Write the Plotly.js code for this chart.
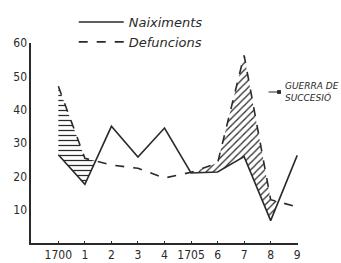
<!DOCTYPE html>
<html><head><meta charset="utf-8">
<script src="https://cdn.plot.ly/plotly-3.0.1.min.js"></script>
<style>html,body{margin:0;padding:0;background:#fff}#c{width:341px;height:263px}</style>
</head><body><div id="c"></div>
<script>
const years = [1700,1701,1702,1703,1704,1705,1706,1707,1708,1709];
const tickLabels = ["1700","1","2","3","4","1705","6","7","8","9"];
const naixements = [26.5,17.6,35,25.8,34.5,21,21.3,25.9,6.7,26.3];
const defuncions = [47,25.4,23.4,22.4,19.5,21.2,24,56.3,13,10.8];
const yTicks = [10,20,30,40,50,60];
const legendNames = ["Naiximents","Defuncions"];
const note = "GUERRA DE<br>SUCCESIÓ";

// regions where deaths exceed births (hatched)
function excessRegions(){
  const segs=[]; let cur=null;
  for(let i=0;i<years.length;i++){
    const d=defuncions[i]-naixements[i];
    if(i>0){
      const dp=defuncions[i-1]-naixements[i-1];
      if((dp>0)!==(d>0)){
        const t=dp/(dp-d);
        const x=years[i-1]+t*(years[i]-years[i-1]);
        const y=naixements[i-1]+t*(naixements[i]-naixements[i-1]);
        if(cur){cur.x.push(x);cur.lo.push(y);cur.hi.push(y);segs.push(cur);cur=null;}
        else cur={x:[x],lo:[y],hi:[y]};
      }
    }
    if(d>0){ if(!cur) cur={x:[],lo:[],hi:[]}; cur.x.push(years[i]); cur.lo.push(naixements[i]); cur.hi.push(defuncions[i]); }
  }
  if(cur) segs.push(cur);
  return segs;
}
const ink = "#2a2a2a";
const patterns = ["-","/"];
const traces = [];
excessRegions().forEach((s,k)=>{
  traces.push({x:s.x,y:s.lo,mode:"lines",line:{width:0,color:ink},showlegend:false,hoverinfo:"skip"});
  traces.push({x:s.x,y:s.hi,mode:"lines",line:{width:0,color:ink},fill:"tonexty",fillcolor:"rgba(0,0,0,0)",
    fillpattern:{shape:patterns[k%2],fgcolor:ink,bgcolor:"white",size:5,solidity:0.25},showlegend:false,hoverinfo:"skip"});
});
traces.push({x:years,y:naixements,name:legendNames[0],mode:"lines",line:{color:ink,width:1.6}});
traces.push({x:years,y:defuncions,name:legendNames[1],mode:"lines",line:{color:ink,width:1.6,dash:"dash"}});

const layout = {
  width:341,height:263,
  margin:{l:31,r:43,t:43,b:20,autoexpand:false},
  paper_bgcolor:"#fff",plot_bgcolor:"#fff",
  font:{family:"DejaVu Sans",color:ink,size:11},
  showlegend:true,
  legend:{x:0.16,y:1.18,xanchor:"left",yanchor:"top",bgcolor:"rgba(0,0,0,0)",traceorder:"normal",
    font:{family:"DejaVu Sans",size:13,style:"italic",color:ink},itemwidth:45,tracegroupgap:0},
  xaxis:{range:[1698.97,1709.03],tickvals:years,ticktext:tickLabels,showgrid:false,zeroline:false,
    showline:true,linecolor:ink,linewidth:1.6,ticks:"inside",ticklen:2,tickcolor:ink,
    tickfont:{size:12,family:"DejaVu Sans Condensed"},fixedrange:true},
  yaxis:{range:[0,60],tickvals:yTicks,showgrid:false,zeroline:false,showline:true,linecolor:ink,linewidth:1.6,
    ticks:"",tickfont:{size:12,family:"DejaVu Sans Condensed"},fixedrange:true},
  annotations:[
    {xref:"paper",yref:"paper",x:0.944,y:0.755,xanchor:"left",yanchor:"middle",text:note,align:"left",
     showarrow:false,font:{size:9,style:"italic",color:ink}},
    {xref:"paper",yref:"paper",x:0.929,y:0.755,text:" ",showarrow:true,ax:-14,ay:0,arrowhead:7,
     arrowsize:0.8,arrowwidth:1.2,arrowcolor:ink,standoff:0,startstandoff:0}
  ]
};
Plotly.newPlot("c",traces,layout,{staticPlot:true,displayModeBar:false});
</script></body></html>
